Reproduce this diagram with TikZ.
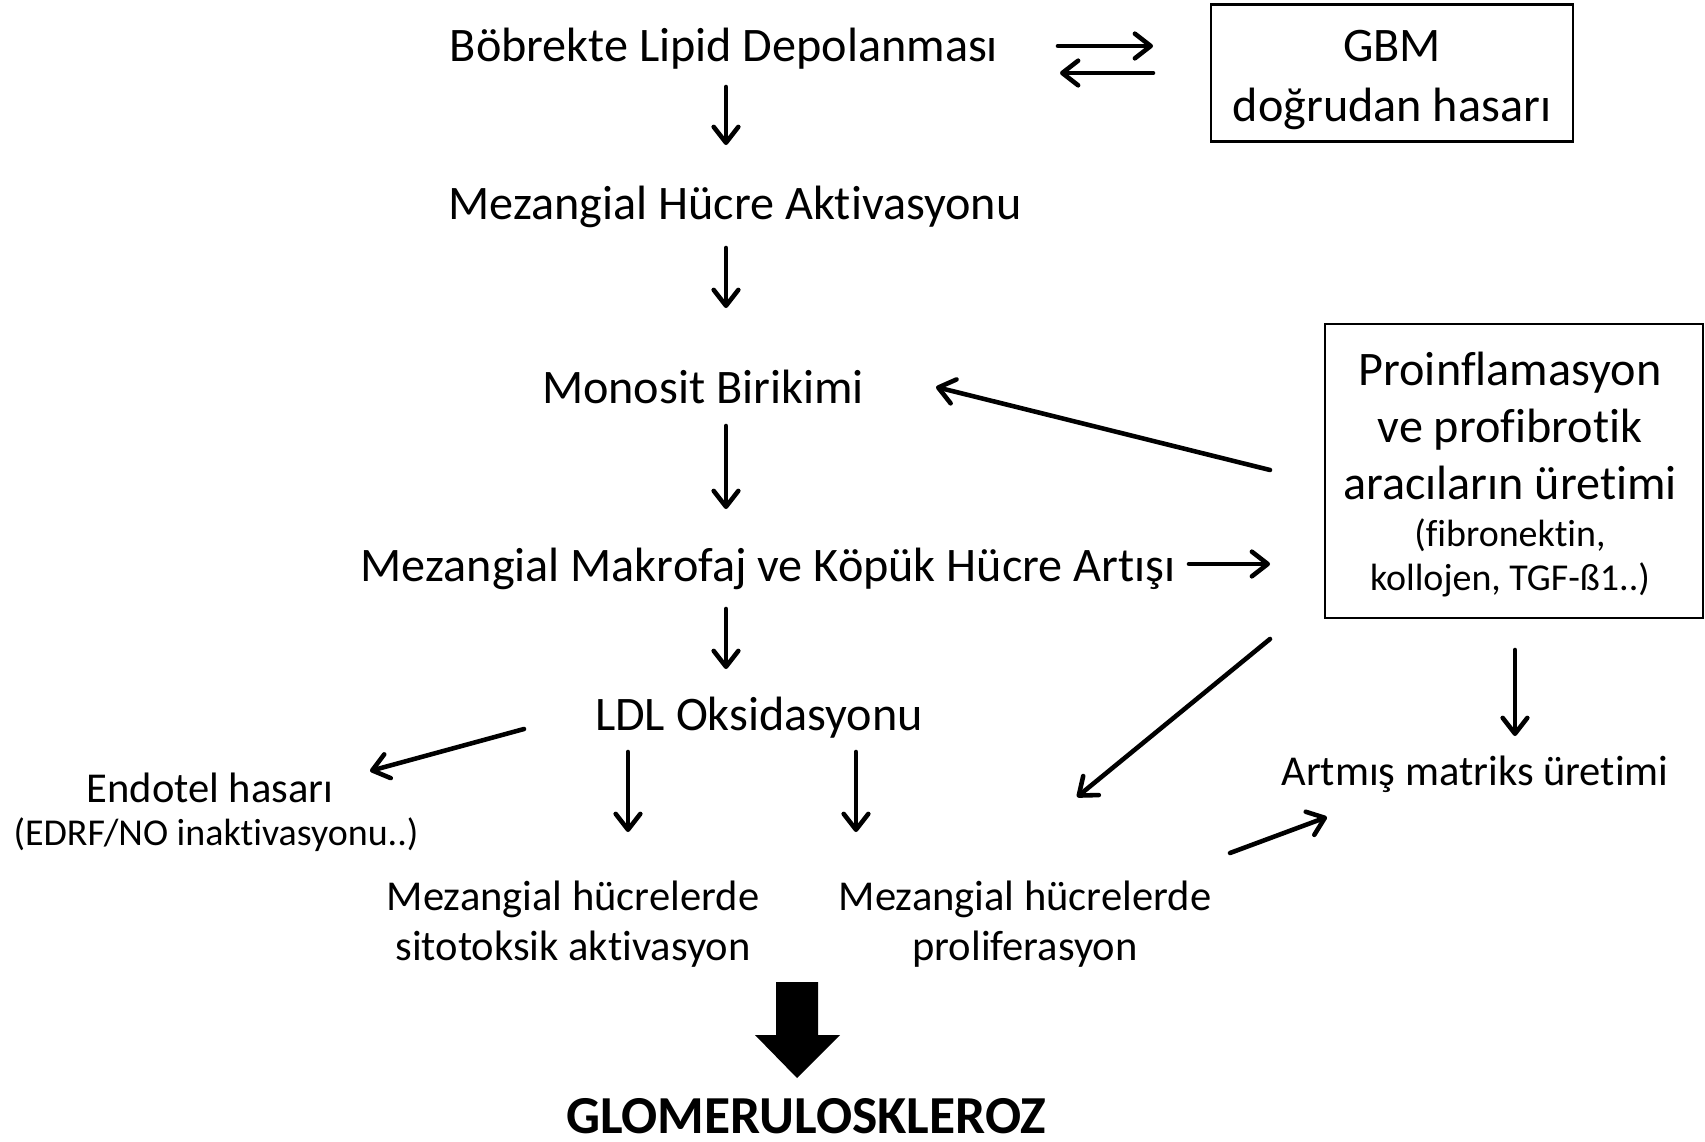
\documentclass[tikz,border=0pt]{standalone}
\usepackage{fontspec}
\setmainfont{Carlito}[Ligatures=NoCommon]
\usetikzlibrary{arrows.meta}

\tikzset{
  big/.style={inner sep=0pt, align=center, font=\fontsize{13.7}{16.1}\selectfont},
  mid/.style={inner sep=0pt, align=center, font=\fontsize{12.1}{14.3}\selectfont},
  small/.style={inner sep=0pt, align=center, font=\fontsize{10.8}{12.4}\selectfont},
  frame/.style={draw, line width=0.6pt, inner sep=0pt},
  arr/.style={line width=1.3pt, line cap=round,
    -{Straight Barb[length=4.5pt,width=7pt,line cap=round,line join=round]}},
}

\begin{document}
\begin{tikzpicture}[x=0.01cm,y=-0.01cm]
    \useasboundingbox (0,0) rectangle (1705,1142);

    % main column
    \node[big] (lipid) at (724,49) {Böbrekte Lipid Depolanması};
    \node[big] (mezakt) at (735,207) {Mezangial Hücre Aktivasyonu};
    \node[big] (monosit) at (703,387) {Monosit Birikimi};
    \node[big] (makro) at (768,569) {Mezangial Makrofaj ve Köpük Hücre Artışı};
    \node[big] (ldl) at (759,718) {LDL Oksidasyonu};

    % boxes
    \node[frame, minimum width=3.61cm, minimum height=1.37cm] (gbmbox) at (1392,73) {};
    \node[big, font=\fontsize{13.7}{16.8}\selectfont] (gbm) at (1392,80) {GBM\\ doğrudan hasarı};
    \node[frame, minimum width=3.77cm, minimum height=2.94cm] (probox) at (1514,471) {};
    \node[big] (pro) at (1510,426) {Proinflamasyon\\ ve profibrotik\\ aracıların üretimi};
    \node[small] (prosub) at (1510,558) {(fibronektin,\\ kollojen, TGF-ß1..)};

    % lower nodes
    \node[mid] (endo) at (210,788) {Endotel hasarı};
    \node[small] (edrf) at (216,835) {(EDRF/NO inaktivasyonu..)};
    \node[mid] (sito) at (573,924) {Mezangial hücrelerde\\ sitotoksik aktivasyon};
    \node[mid] (prolif) at (1025,924) {Mezangial hücrelerde\\ proliferasyon};
    \node[mid] (matriks) at (1475,774) {Artmış matriks üretimi};
    \node[inner sep=0pt, font=\fontsize{15.2}{17}\selectfont\bfseries] (glom) at (806,1116) {GLOMERULOSKLEROZ};

    % arrow ends
    \coordinate (a1) at (726,87);   \coordinate (b1) at (726,145);
    \coordinate (a2) at (726,248);  \coordinate (b2) at (726,308);
    \coordinate (a3) at (726,426);  \coordinate (b3) at (726,509);
    \coordinate (a4) at (726,609);  \coordinate (b4) at (726,669);
    \coordinate (e1) at (1058,46);  \coordinate (e2) at (1153,46);
    \coordinate (e3) at (1153,73);  \coordinate (e4) at (1060,73);
    \coordinate (r1) at (1189,564); \coordinate (r2) at (1270,564);
    \coordinate (p1) at (1270,470); \coordinate (p2) at (936,387);
    \coordinate (p3) at (1270,639); \coordinate (p4) at (1077,797);
    \coordinate (p5) at (1515,650); \coordinate (p6) at (1515,736);
    \coordinate (m1) at (1230,853); \coordinate (m2) at (1327,817);
    \coordinate (l1) at (524,729);  \coordinate (l2) at (370,771);
    \coordinate (l3) at (628,752);  \coordinate (l4) at (628,832);
    \coordinate (l5) at (856,752);  \coordinate (l6) at (856,832);

    \draw[arr] (a1) -- (b1);
    \draw[arr] (a2) -- (b2);
    \draw[arr] (a3) -- (b3);
    \draw[arr] (a4) -- (b4);
    \draw[arr] (e1) -- (e2);
    \draw[arr] (e3) -- (e4);
    \draw[arr] (r1) -- (r2);
    \draw[arr] (p1) -- (p2);
    \draw[arr] (p3) -- (p4);
    \draw[arr] (p5) -- (p6);
    \draw[arr] (m1) -- (m2);
    \draw[arr] (l1) -- (l2);
    \draw[arr] (l3) -- (l4);
    \draw[arr] (l5) -- (l6);

    % block arrow
    \fill (776,982) -- (818,982) -- (818,1035) -- (840,1035) -- (797,1078)
      -- (755,1035) -- (776,1035) -- cycle;
\end{tikzpicture}
\end{document}
